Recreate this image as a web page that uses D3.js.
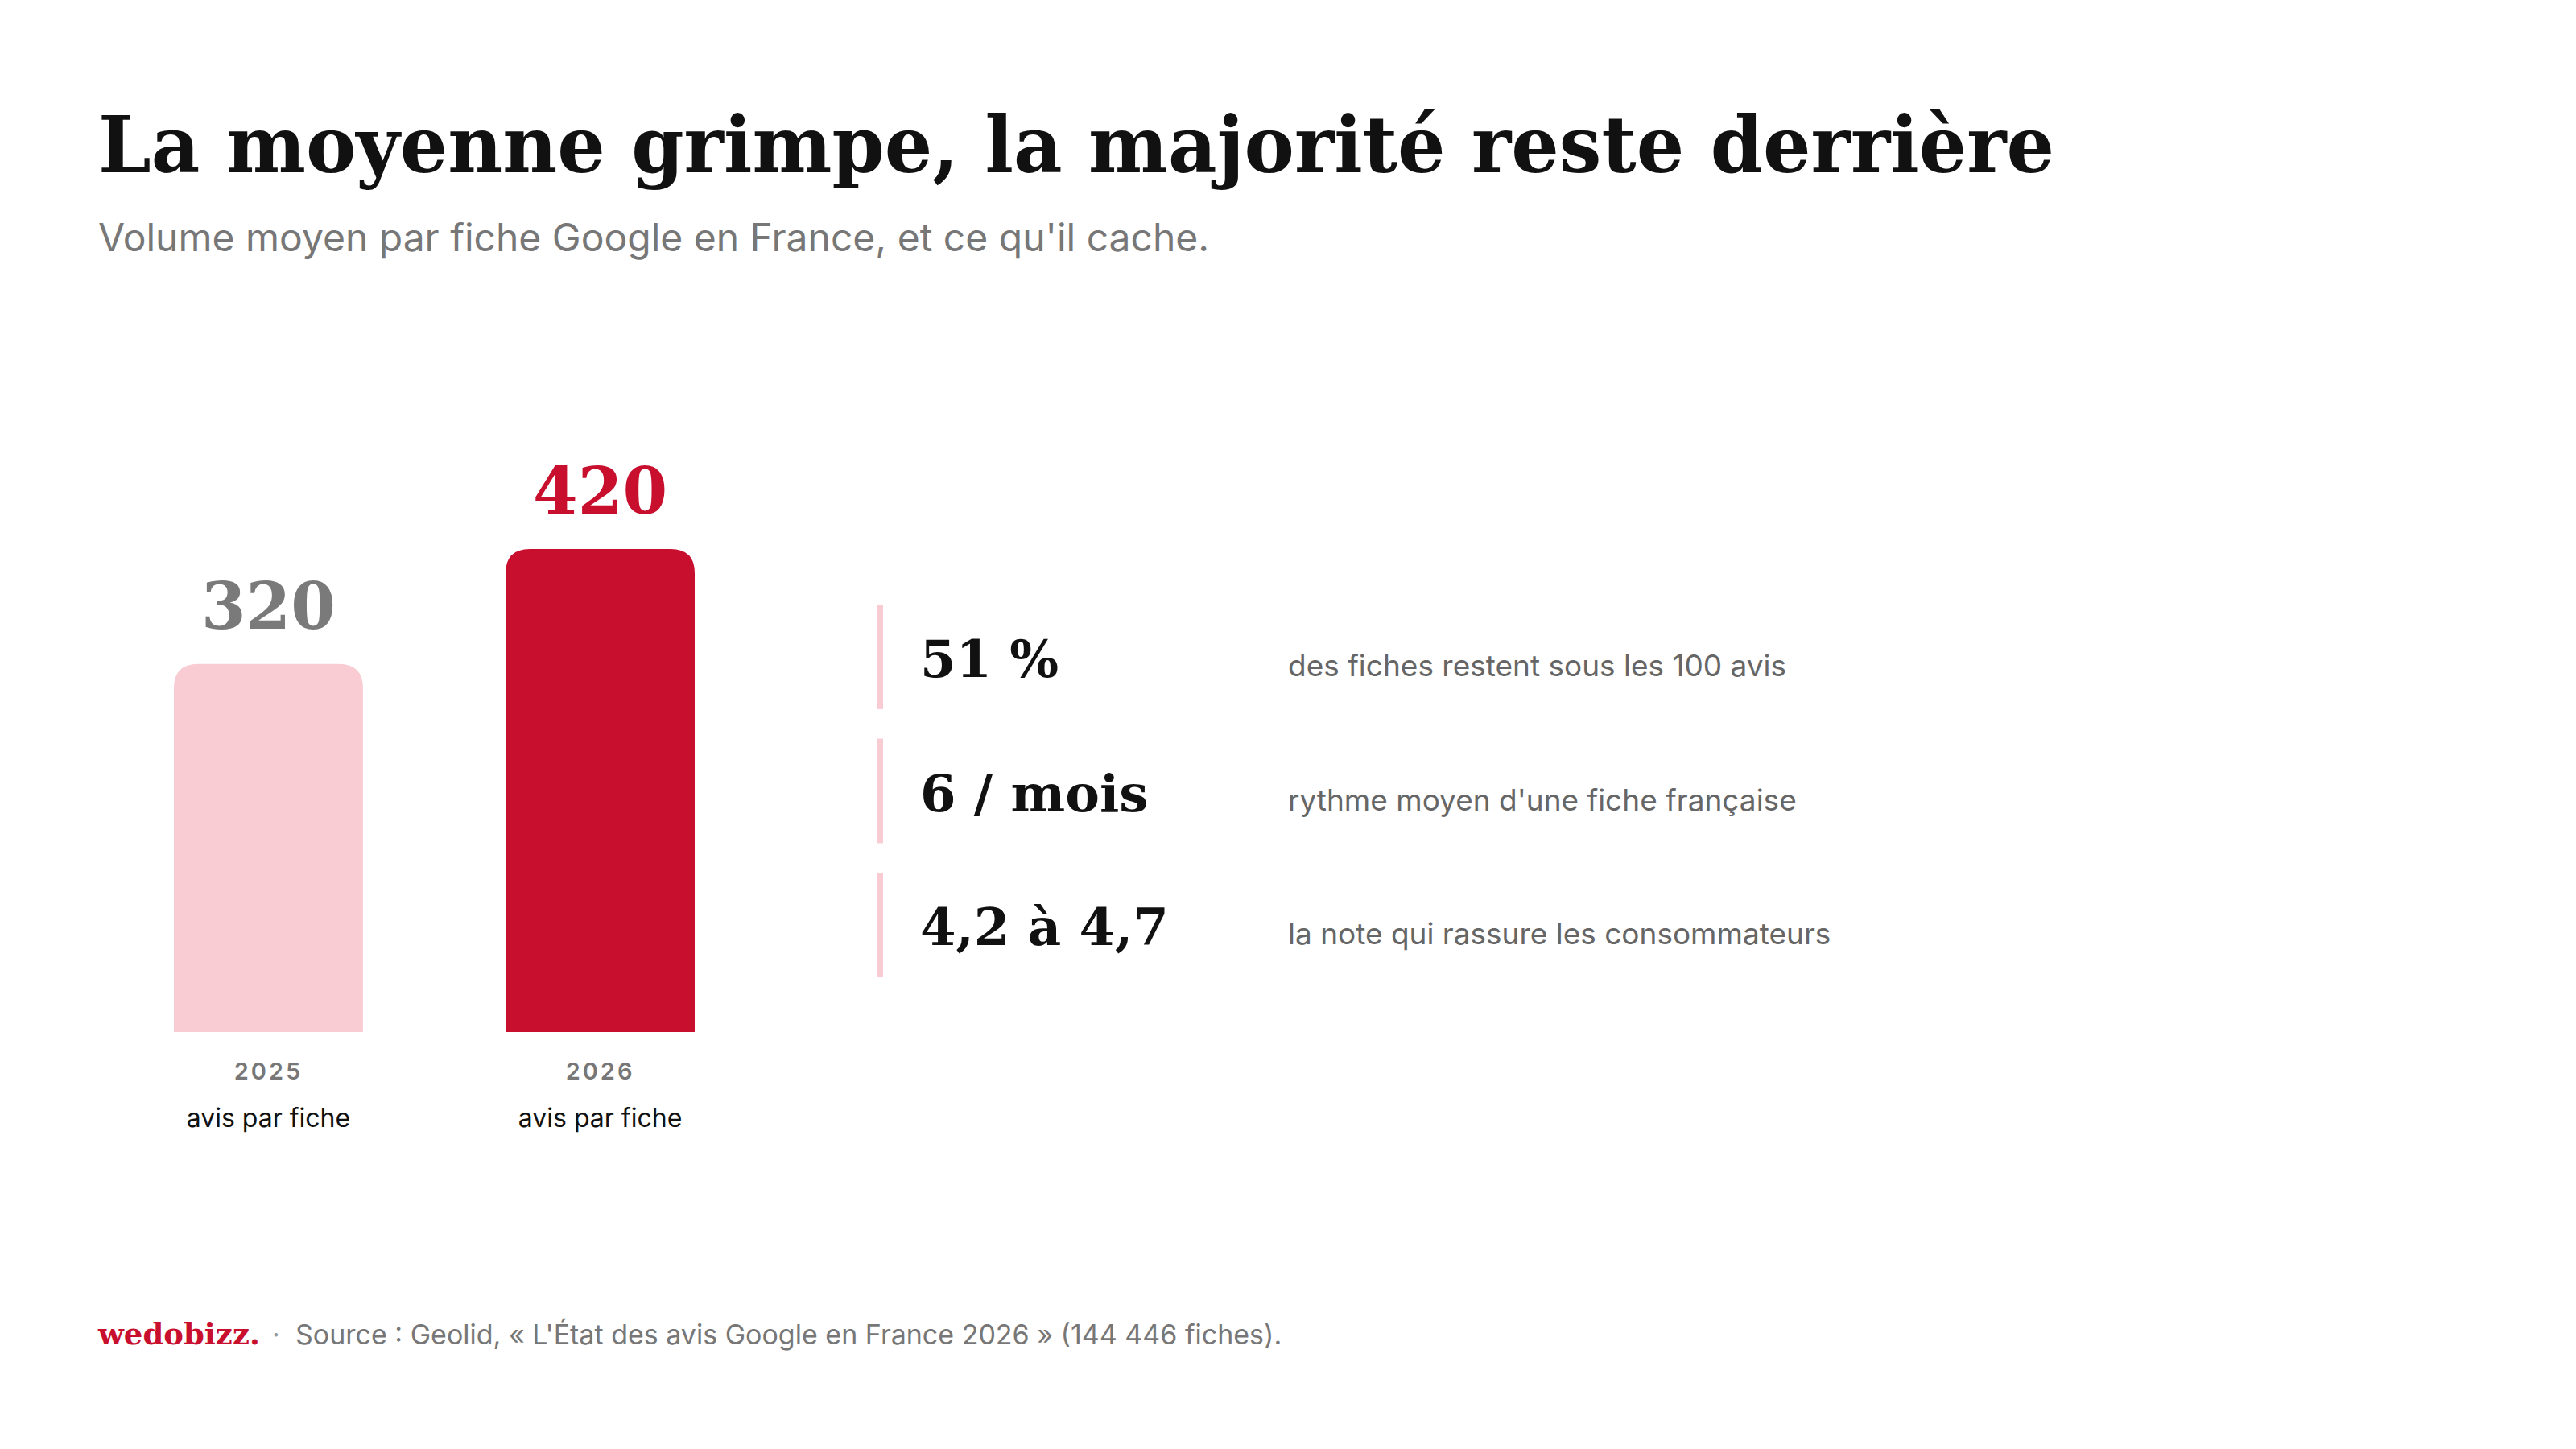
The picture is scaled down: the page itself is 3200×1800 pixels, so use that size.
<!DOCTYPE html>
<html><head><meta charset="utf-8">
<script src="https://cdn.jsdelivr.net/npm/d3@7"></script>
<style>body{margin:0;background:#fff}</style>
</head><body><div id="chart"></div>
<script>
// Data
const years = ['2025', '2026'];
const values = [320, 420];
const barColors = ['#f9ccd4', '#c8102e'];
const labelColors = ['#7a7a7a', '#c8102e'];
const statValues = ['51 %', '6 / mois', '4,2 à 4,7'];
const statTexts = ['des fiches restent sous les 100 avis', "rythme moyen d'une fiche française", 'la note qui rassure les consommateurs'];

const W = 3200, H = 1800;
const serif = '"DejaVu Serif", "Liberation Serif", serif';
const sans = 'Inter, "Noto Sans", sans-serif';
const svg = d3.select('#chart').append('svg').attr('width', W).attr('height', H);

svg.append('text').attr('x', 122).attr('y', 214)
  .attr('font-family', serif).attr('font-weight', 900).attr('font-size', 98)
  .attr('fill', '#111').attr('textLength', 2430).attr('lengthAdjust', 'spacingAndGlyphs')
  .text('La moyenne grimpe, la majorité reste derrière');
svg.append('text').attr('x', 122).attr('y', 312)
  .attr('font-family', sans).attr('font-size', 48).attr('fill', '#777')
  .text("Volume moyen par fiche Google en France, et ce qu'il cache.");

// Bars
const x = d3.scaleBand().domain(years).range([216, 863]).paddingInner(0.43).paddingOuter(0);
const y = d3.scaleLinear().domain([0, 420]).range([1282, 682]);
const r = 30;
const barPath = (x0, w, top, bottom) =>
  `M${x0},${bottom}V${top + r}Q${x0},${top} ${x0 + r},${top}H${x0 + w - r}Q${x0 + w},${top} ${x0 + w},${top + r}V${bottom}Z`;

years.forEach((yr, i) => {
  const bx = x(yr), bw = x.bandwidth(), cx = bx + bw / 2;
  svg.append('path').attr('d', barPath(bx, bw, y(values[i]), y(0))).attr('fill', barColors[i]);
  svg.append('text').attr('x', cx).attr('y', y(values[i]) - 44).attr('text-anchor', 'middle')
    .attr('font-family', serif).attr('font-weight', 900).attr('font-size', 80)
    .attr('fill', labelColors[i]).text(values[i]);
  svg.append('text').attr('x', cx).attr('y', 1341).attr('text-anchor', 'middle')
    .attr('font-family', sans).attr('font-weight', 600).attr('font-size', 29)
    .attr('letter-spacing', 3).attr('fill', '#777').text(yr);
  svg.append('text').attr('x', cx).attr('y', 1400).attr('text-anchor', 'middle')
    .attr('font-family', sans).attr('font-size', 32).attr('fill', '#111').text('avis par fiche');
});

// Stats
const sy = d3.scaleBand().domain(d3.range(statValues.length)).range([751, 1214]).paddingInner(0.22);
statValues.forEach((v, i) => {
  const top = sy(i), h = sy.bandwidth(), mid = top + h / 2;
  svg.append('rect').attr('x', 1090).attr('y', top).attr('width', 7).attr('height', h).attr('fill', '#f9ccd4');
  svg.append('text').attr('x', 1143).attr('y', mid + 25)
    .attr('font-family', serif).attr('font-weight', 900).attr('font-size', 64)
    .attr('fill', '#111').text(v);
  svg.append('text').attr('x', 1600).attr('y', mid + 24)
    .attr('font-family', sans).attr('font-size', 37).attr('fill', '#666').text(statTexts[i]);
});

// Footer
svg.append('text').attr('x', 122).attr('y', 1670)
  .attr('font-family', serif).attr('font-weight', 900).attr('font-size', 37)
  .attr('fill', '#c8102e').text('wedobizz.');
svg.append('text').attr('x', 338).attr('y', 1670)
  .attr('font-family', sans).attr('font-size', 34).attr('fill', '#999').text('·');
svg.append('text').attr('x', 367).attr('y', 1670)
  .attr('font-family', sans).attr('font-size', 34).attr('fill', '#777')
  .text("Source : Geolid, « L'État des avis Google en France 2026 » (144 446 fiches).");
</script></body></html>
